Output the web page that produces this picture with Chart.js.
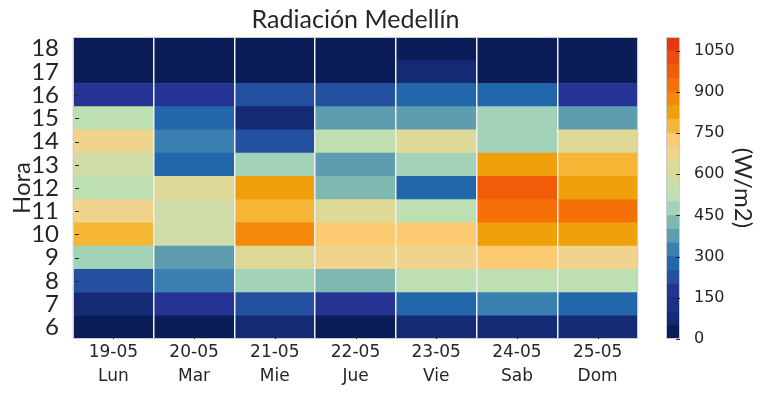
<!DOCTYPE html>
<html>
<head>
<meta charset="utf-8">
<script src="https://cdn.jsdelivr.net/npm/chart.js@4.4.1/dist/chart.umd.min.js"></script>
<style>
  html, body { margin: 0; padding: 0; background: #fff; }
  #wrap { position: relative; width: 767px; height: 395px; }
  canvas { position: absolute; left: 0; top: 0; }
  #barra { pointer-events: none; }
</style>
</head>
<body>
<div id="wrap">
  <canvas id="mapa" width="767" height="395"></canvas>
  <canvas id="barra" width="767" height="395"></canvas>
</div>
<script>
// Datos
const fechas = ['19-05', '20-05', '21-05', '22-05', '23-05', '24-05', '25-05'];
const dias = ['Lun', 'Mar', 'Mie', 'Jue', 'Vie', 'Sab', 'Dom'];
const horas = [6, 7, 8, 9, 10, 11, 12, 13, 14, 15, 16, 17, 18];

// radiación por día, de las 6 a las 18 h (W/m2)
const lun = [15, 70, 225, 470, 775, 670, 520, 575, 680, 530, 170, 20, 5];
const mar = [12, 160, 330, 370, 560, 580, 620, 280, 320, 270, 180, 18, 6];
const mie = [60, 230, 480, 630, 870, 780, 820, 460, 210, 80, 240, 25, 8];
const jue = [30, 190, 420, 660, 720, 640, 430, 380, 510, 390, 245, 22, 10];
const vie = [85, 265, 540, 690, 740, 525, 290, 490, 610, 360, 275, 55, 12];
const sab = [75, 340, 545, 710, 840, 930, 960, 810, 475, 455, 255, 28, 9];
const dom = [90, 285, 515, 675, 830, 910, 845, 760, 645, 355, 155, 35, 14];
const semana = [lun, mar, mie, jue, vie, sab, dom];

// escala de colores (pasos de 50 W/m2, de 0 a 1100)
const escalaTicks = [0, 150, 300, 450, 600, 750, 900, 1050];
const escalaPaso = 50;
const escalaMax = 1100;
const paleta = [
    '#0a1d58', '#142a74', '#1c3086', '#253494', '#2351a0', '#2267ac',
    '#3a80b0', '#5e9db0', '#7fb8b0', '#a2d3b8', '#bedfb2', '#cfdca8',
    '#dfd998', '#f0d48e', '#fcca70', '#f5b535', '#f0a00a', '#f4880a',
    '#f67008', '#f05c08', '#ec4a10', '#e8360e'
];

const texto = '#262626';
const fuenteA = "Lato, 'Open Sans', sans-serif";
const fuenteB = "'DejaVu Sans', sans-serif";

function colorDe(v) {
    const i = Math.min(Math.floor(v / escalaPaso), paleta.length - 1);
    return paleta[Math.max(i, 0)];
}

// marco gris y marcas hacia dentro
const marco = {
    id: 'marco',
    afterDraw(chart, args, opts) {
        const { ctx, chartArea: a } = chart;
        ctx.save();
        ctx.strokeStyle = '#cccccc';
        ctx.lineWidth = 1;
        ctx.strokeRect(a.left + 0.5, a.top + 0.5, a.right - a.left - 1, a.bottom - a.top - 1);
        ctx.strokeStyle = texto;
        ctx.beginPath();
        if (opts.ticksX) {
            const sx = chart.scales.x;
            sx.ticks.forEach((t, i) => {
                const px = Math.round(sx.getPixelForTick(i)) + 0.5;
                ctx.moveTo(px, a.bottom);
                ctx.lineTo(px, a.bottom - 4);
            });
        }
        if (opts.ticksY) {
            const sy = chart.scales.y;
            sy.ticks.forEach(t => {
                const py = Math.round(sy.getPixelForValue(t.value)) + 0.5;
                if (opts.ticksY === 'left') {
                    ctx.moveTo(a.left + 2, py);
                    ctx.lineTo(a.left + 6, py);
                } else {
                    ctx.moveTo(a.right - 4, py);
                    ctx.lineTo(a.right, py);
                }
            });
        }
        ctx.stroke();
        ctx.restore();
    }
};

// Mapa de calor
new Chart(document.getElementById('mapa'), {
    type: 'bar',
    data: {
        labels: fechas.map((f, i) => [f, dias[i]]),
        datasets: horas.map((h, j) => ({
            data: fechas.map(() => [h - 0.5, h + 0.5]),
            backgroundColor: semana.map(s => colorDe(s[j])),
            borderWidth: 0,
            grouped: false,
            barPercentage: 1,
            categoryPercentage: 1
        }))
    },
    options: {
        responsive: false,
        animation: false,
        devicePixelRatio: 1,
        layout: { padding: { left: 0, right: 129, top: 0, bottom: 0 } },
        plugins: {
            legend: { display: false },
            tooltip: { enabled: false },
            title: {
                display: true,
                text: 'Radiación Medellín',
                fullSize: false,
                color: texto,
                font: { family: fuenteA, size: 25, weight: 'normal', lineHeight: 1.2 },
                padding: { top: 5, bottom: 2 }
            },
            marco: { ticksX: true, ticksY: 'left' }
        },
        scales: {
            x: {
                grid: { z: 1, offset: true, color: '#eeeeee', lineWidth: 1.5, drawTicks: false },
                border: { display: false },
                ticks: {
                    color: texto,
                    padding: 2,
                    font: { family: fuenteB, size: 17, lineHeight: 1.4 }
                },
                afterFit: s => { s.height = 56; }
            },
            y: {
                min: 5.5,
                max: 18.5,
                grid: { display: false },
                border: { display: false },
                afterBuildTicks: s => { s.ticks = horas.map(h => ({ value: h })); },
                ticks: {
                    color: texto,
                    padding: 6,
                    autoSkip: false,
                    font: { family: fuenteA, size: 24, lineHeight: 1 }
                },
                title: {
                    display: true,
                    text: 'Hora',
                    color: texto,
                    font: { family: fuenteA, size: 24 },
                    padding: { top: 8 }
                },
                afterFit: s => { s.width = 73; }
            }
        }
    },
    plugins: [marco]
});

// Barra de colores
new Chart(document.getElementById('barra'), {
    type: 'bar',
    data: {
        labels: [''],
        datasets: paleta.map((c, i) => ({
            data: [[i * escalaPaso, (i + 1) * escalaPaso]],
            backgroundColor: c,
            borderWidth: 0,
            grouped: false,
            barPercentage: 1,
            categoryPercentage: 1
        }))
    },
    options: {
        responsive: false,
        animation: false,
        devicePixelRatio: 1,
        layout: { padding: { left: 666, right: 0, top: 37, bottom: 56 } },
        plugins: {
            legend: { display: false },
            tooltip: { enabled: false },
            marco: { ticksX: false, ticksY: 'right' }
        },
        scales: {
            x: { display: false },
            y: {
                position: 'right',
                min: 0,
                max: escalaMax,
                grid: { display: false },
                border: { display: false },
                afterBuildTicks: s => { s.ticks = escalaTicks.map(v => ({ value: v })); },
                ticks: {
                    color: texto,
                    padding: 6,
                    autoSkip: false,
                    callback: v => String(v),
                    font: { family: fuenteB, size: 16 }
                },
                title: {
                    display: true,
                    text: '(W/m2)',
                    color: texto,
                    font: { family: fuenteA, size: 24 },
                    padding: { top: 10 }
                },
                afterFit: s => { s.width = 87; }
            }
        }
    },
    plugins: [marco]
});
</script>
</body>
</html>
